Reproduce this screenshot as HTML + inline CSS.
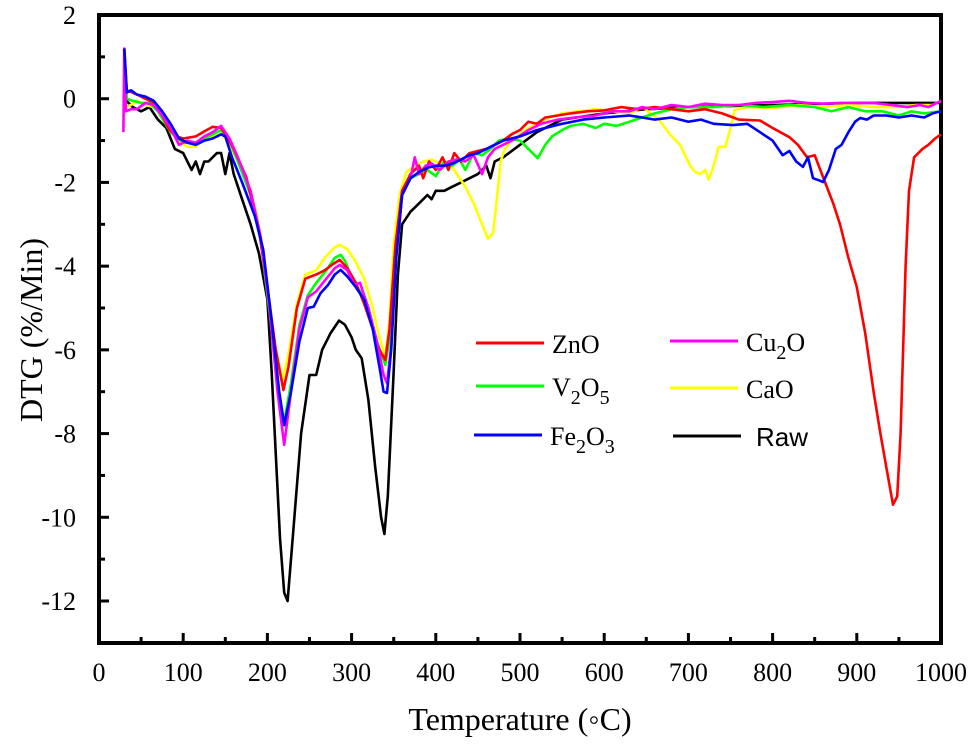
<!DOCTYPE html>
<html><head><meta charset="utf-8"><style>
body{margin:0;background:#fff;}
svg{display:block;font-family:"Liberation Serif",serif;}
</style></head><body>
<svg id="chart" width="975" height="750">
<g id="axes"></g>
<g id="series"></g>
<g id="legend"></g>
</svg>
<script>
const xTicks=[0,100,200,300,400,500,600,700,800,900,1000];
const yTicks=[2,0,-2,-4,-6,-8,-10,-12];
const zno=[[30,1.2],[33,0.2],[37,0.17],[45,0.1],[55,0.0],[64,-0.08],[75,-0.4],[84,-0.75],[92,-0.9],[100,-0.95],[115,-0.9],[125,-0.78],[135,-0.67],[145,-0.7],[152,-0.9],[160,-1.2],[175,-1.87],[190,-3.14],[200,-4.5],[210,-6.0],[219,-6.96],[225,-6.4],[235,-5.0],[245,-4.3],[258,-4.2],[268,-4.1],[278,-3.95],[286,-3.85],[295,-4.05],[305,-4.4],[315,-4.9],[325,-5.5],[333,-6.0],[340,-6.24],[345,-5.5],[352,-3.5],[360,-2.2],[370,-1.8],[380,-1.6],[385,-1.9],[392,-1.5],[400,-1.7],[408,-1.4],[415,-1.7],[422,-1.3],[430,-1.5],[440,-1.3],[450,-1.25],[460,-1.2],[470,-1.1],[480,-1.0],[490,-0.85],[500,-0.75],[510,-0.55],[520,-0.6],[530,-0.45],[545,-0.4],[560,-0.35],[580,-0.3],[600,-0.28],[620,-0.2],[640,-0.25],[660,-0.2],[680,-0.25],[700,-0.3],[720,-0.25],[740,-0.35],[760,-0.5],[785,-0.52],[800,-0.7],[820,-0.92],[830,-1.1],[841,-1.4],[850,-1.35],[862,-1.98],[872,-2.5],[880,-3.0],[890,-3.8],[900,-4.5],[910,-5.6],[920,-7.0],[928,-8.0],[935,-8.8],[943,-9.7],[948,-9.5],[952,-8.0],[955,-6.0],[958,-4.0],[962,-2.2],[968,-1.4],[978,-1.2],[985,-1.1],[993,-0.95],[1000,-0.85]];
const v2o5=[[30,1.1],[33,0.0],[40,-0.05],[50,-0.1],[60,-0.1],[70,-0.3],[85,-0.8],[100,-1.05],[115,-1.05],[125,-0.95],[135,-0.85],[145,-0.75],[155,-1.0],[165,-1.5],[180,-2.3],[192,-3.4],[202,-5.0],[212,-6.8],[220,-7.72],[228,-6.8],[238,-5.4],[248,-4.7],[258,-4.4],[270,-4.1],[280,-3.8],[287,-3.73],[293,-3.9],[300,-4.3],[310,-4.6],[320,-5.0],[330,-5.8],[340,-6.36],[346,-5.6],[352,-3.6],[360,-2.3],[370,-1.9],[380,-1.8],[390,-1.7],[400,-1.85],[410,-1.5],[420,-1.6],[428,-1.45],[435,-1.7],[445,-1.3],[455,-1.35],[465,-1.2],[475,-1.0],[485,-0.95],[500,-1.0],[510,-1.2],[521,-1.42],[530,-1.1],[538,-0.9],[550,-0.75],[560,-0.65],[575,-0.6],[590,-0.7],[600,-0.6],[615,-0.65],[630,-0.55],[645,-0.45],[660,-0.35],[680,-0.25],[700,-0.2],[730,-0.2],[760,-0.15],[790,-0.2],[820,-0.15],[850,-0.2],[870,-0.3],[890,-0.2],[910,-0.3],[930,-0.3],[950,-0.4],[965,-0.3],[980,-0.35],[1000,-0.3]];
const fe2o3=[[30,1.2],[33,0.15],[38,0.2],[45,0.1],[55,0.05],[65,-0.05],[75,-0.3],[85,-0.6],[95,-0.95],[105,-1.05],[115,-1.1],[125,-1.0],[135,-0.95],[145,-0.85],[150,-0.9],[158,-1.4],[170,-2.0],[185,-2.8],[195,-3.6],[205,-5.3],[214,-7.0],[220,-7.8],[228,-7.0],[238,-5.8],[248,-5.0],[255,-4.97],[263,-4.65],[272,-4.45],[280,-4.2],[287,-4.09],[295,-4.25],[305,-4.5],[315,-4.8],[325,-5.5],[333,-6.4],[338,-7.0],[342,-7.03],[347,-6.0],[353,-3.8],[360,-2.3],[370,-1.9],[380,-1.75],[390,-1.65],[400,-1.6],[410,-1.6],[420,-1.55],[430,-1.45],[440,-1.35],[450,-1.3],[460,-1.2],[470,-1.1],[480,-1.0],[500,-0.9],[520,-0.75],[550,-0.6],[575,-0.5],[600,-0.45],[630,-0.4],[645,-0.45],[660,-0.5],[680,-0.45],[700,-0.55],[715,-0.5],[730,-0.6],[753,-0.63],[770,-0.6],[785,-0.8],[800,-1.0],[812,-1.35],[820,-1.25],[828,-1.5],[836,-1.63],[842,-1.4],[848,-1.9],[855,-1.95],[860,-1.99],[867,-1.7],[875,-1.2],[882,-1.1],[890,-0.8],[898,-0.55],[904,-0.46],[912,-0.5],[920,-0.4],[935,-0.4],[950,-0.45],[965,-0.4],[980,-0.45],[990,-0.35],[1000,-0.3]];
const cu2o=[[29,-0.8],[30,1.2],[32,-0.3],[38,-0.25],[45,-0.25],[55,-0.1],[65,-0.15],[75,-0.4],[85,-0.7],[95,-1.1],[105,-1.0],[115,-1.05],[125,-0.9],[135,-0.8],[145,-0.65],[155,-0.95],[165,-1.4],[180,-2.2],[192,-3.3],[202,-4.9],[212,-7.0],[220,-8.27],[228,-7.0],[238,-5.5],[248,-4.75],[258,-4.6],[270,-4.3],[280,-4.05],[286,-3.97],[295,-4.1],[303,-4.45],[310,-4.4],[320,-5.0],[330,-5.8],[338,-6.6],[342,-6.8],[347,-5.9],[353,-3.8],[360,-2.3],[370,-1.9],[375,-1.4],[380,-1.8],[388,-1.6],[395,-1.55],[405,-1.7],[415,-1.5],[425,-1.45],[435,-1.5],[445,-1.35],[455,-1.8],[462,-1.4],[470,-1.2],[480,-1.1],[495,-0.95],[510,-0.75],[525,-0.6],[545,-0.5],[565,-0.45],[590,-0.4],[610,-0.3],[630,-0.3],[645,-0.2],[660,-0.25],[680,-0.15],[700,-0.2],[720,-0.12],[740,-0.15],[760,-0.15],[780,-0.1],[800,-0.08],[820,-0.05],[840,-0.1],[860,-0.12],[880,-0.1],[900,-0.1],[920,-0.1],[940,-0.15],[960,-0.2],[975,-0.15],[985,-0.2],[1000,-0.05]];
const cao=[[29,1.2],[31,-0.2],[38,-0.15],[45,-0.05],[55,-0.15],[65,-0.2],[75,-0.4],[85,-0.8],[95,-1.0],[105,-1.15],[115,-1.15],[125,-0.95],[135,-0.9],[145,-0.85],[152,-1.0],[160,-1.3],[175,-1.9],[188,-2.8],[198,-4.2],[208,-5.8],[218,-6.72],[225,-6.1],[235,-4.9],[245,-4.2],[258,-4.1],[268,-3.8],[280,-3.55],[286,-3.49],[295,-3.6],[305,-3.9],[315,-4.3],[325,-5.0],[333,-5.7],[340,-6.17],[345,-5.3],[350,-3.5],[357,-2.3],[365,-1.75],[375,-1.6],[385,-1.5],[395,-1.45],[405,-1.55],[415,-1.5],[425,-1.8],[435,-2.1],[445,-2.5],[455,-3.0],[462,-3.35],[468,-3.2],[472,-2.5],[477,-1.5],[482,-1.2],[490,-1.0],[500,-0.85],[510,-0.7],[520,-0.6],[535,-0.45],[550,-0.35],[570,-0.3],[590,-0.25],[610,-0.3],[630,-0.35],[646,-0.2],[655,-0.35],[665,-0.5],[678,-0.85],[690,-1.1],[702,-1.6],[708,-1.75],[714,-1.8],[720,-1.7],[724,-1.93],[730,-1.6],[736,-1.15],[744,-1.15],[750,-0.7],[755,-0.27],[770,-0.2],[800,-0.22],[830,-0.15],[860,-0.2],[890,-0.15],[920,-0.2],[950,-0.2],[970,-0.15],[990,-0.15],[1000,-0.05]];
const raw=[[30,0.0],[40,-0.2],[50,-0.3],[60,-0.2],[70,-0.5],[80,-0.7],[90,-1.2],[100,-1.3],[110,-1.7],[115,-1.5],[120,-1.8],[125,-1.5],[130,-1.5],[140,-1.3],[145,-1.3],[150,-1.8],[155,-1.3],[160,-1.8],[170,-2.4],[180,-3.0],[190,-3.7],[200,-4.8],[205,-6.5],[210,-8.5],[215,-10.5],[220,-11.8],[224,-12.0],[230,-10.5],[240,-8.0],[250,-6.6],[258,-6.6],[265,-6.0],[275,-5.6],[285,-5.3],[292,-5.4],[300,-5.7],[305,-6.0],[312,-6.2],[320,-7.2],[328,-8.8],[335,-10.0],[339,-10.4],[343,-9.5],[350,-6.5],[355,-4.2],[360,-3.0],[370,-2.7],[380,-2.5],[390,-2.3],[395,-2.4],[400,-2.2],[410,-2.2],[420,-2.1],[430,-2.0],[440,-1.9],[450,-1.8],[460,-1.6],[465,-1.9],[470,-1.5],[480,-1.4],[500,-1.1],[520,-0.8],[550,-0.5],[600,-0.35],[650,-0.25],[700,-0.2],[800,-0.15],[900,-0.1],[1000,-0.1]];

const NS='http://www.w3.org/2000/svg';
const X0=99,X1=941,Y0=15,YB=643;
function xs(t){return X0+(t-0)/(1000-0)*(X1-X0);}
function ys(v){return Y0+(2-v)*((601-15)/14);}
function mk(tag,attrs,parent){const e=document.createElementNS(NS,tag);for(const k in attrs)e.setAttribute(k,attrs[k]);parent.appendChild(e);return e;}
const axes=document.getElementById('axes');
const frame=mk('path',{d:`M${X0},${Y0}H${X1}V${YB}H${X0}Z`,fill:'none',stroke:'#000','stroke-width':4},axes);


for(let t=0;t<=1000;t+=50){
  const len=(t%100===0)?10:6;
  const tk=mk('line',{x1:xs(t),x2:xs(t),y1:YB,y2:YB-len,stroke:'#000','stroke-width':3},axes);
  
  
}
xTicks.forEach(t=>{
  const tx=mk('text',{x:xs(t),y:681,'text-anchor':'middle','font-size':26},axes);
  tx.textContent=t;
  
  
});
for(let v=2;v>=-13;v-=1){
  const len=(v%2===0)?10:6;
  const tk=mk('line',{x1:X0,x2:X0+len,y1:ys(v),y2:ys(v),stroke:'#000','stroke-width':3},axes);
  
  
}
yTicks.forEach(v=>{
  const tx=mk('text',{x:76,y:ys(v)+9,'text-anchor':'end','font-size':26},axes);
  tx.textContent=v;
  
  
});
const xt=mk('text',{x:520,y:730,'text-anchor':'middle','font-size':32},axes);
xt.textContent='Temperature (\u25E6C)';


const yt=mk('text',{x:0,y:0,'text-anchor':'middle','font-size':32,transform:'translate(42,330) rotate(-90)'},axes);
yt.textContent='DTG (%/Min)';



const sg=document.getElementById('series');
const list=[[raw,'#000','raw'],[cao,'#ffff00','cao'],[v2o5,'#00ff00','v2o5'],[zno,'#ff0000','zno'],[cu2o,'#ff00ff','cu2o'],[fe2o3,'#0000ff','fe2o3']];
list.forEach(([d,c,n])=>{
  const p=mk('polyline',{points:d.map(q=>xs(q[0]).toFixed(1)+','+ys(q[1]).toFixed(1)).join(' '),fill:'none',stroke:c,'stroke-width':2.6,'stroke-linejoin':'round'},sg);
  
  
});
const lg=document.getElementById('legend');
const items=[['#ff0000','ZnO',476,343],['#00ff00','V<tspan dy="8" font-size="20">2</tspan><tspan dy="-8">O</tspan><tspan dy="8" font-size="20">5</tspan>',476,386],['#0000ff','Fe<tspan dy="8" font-size="20">2</tspan><tspan dy="-8">O</tspan><tspan dy="8" font-size="20">3</tspan>',474,435],['#ff00ff','Cu<tspan dy="8" font-size="20">2</tspan><tspan dy="-8">O</tspan>',670,341],['#ffff00','CaO',670,388],['#000','Raw',673,436]];
items.forEach(([c,label,x,y],i)=>{
  const l=mk('line',{x1:x,x2:x+68,y1:y,y2:y,stroke:c,'stroke-width':3},lg);
  
  
  const t=mk('text',{x:x+76,y:y+10,'font-size':26},lg);
  if(label==='Raw'){t.setAttribute('font-family','"Liberation Sans",sans-serif');t.setAttribute('x',x+83);}
  t.innerHTML=label;
  
  
});
</script>
</body></html>
